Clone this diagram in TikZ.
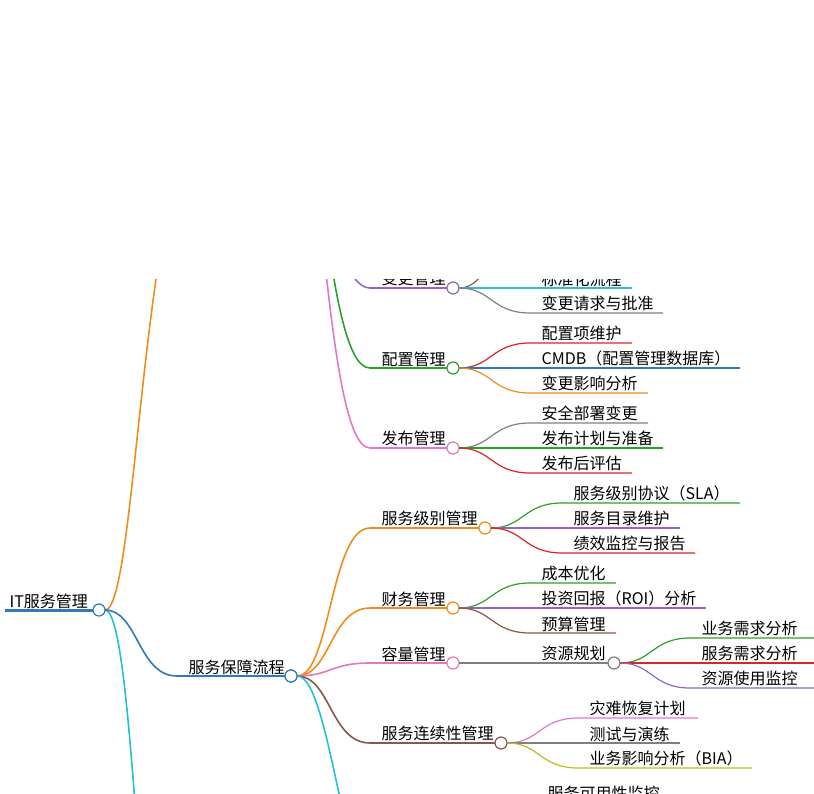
\documentclass[tikz,border=0pt]{standalone}
\usepackage{fontspec}
\setmainfont{Noto Sans CJK SC}
\definecolor{mmblue}{HTML}{2F7AB8}
\definecolor{mmorange}{HTML}{F08C1E}
\definecolor{mmcyan}{HTML}{26C0D0}
\definecolor{mmgreen}{HTML}{2CA02C}
\definecolor{mmpink}{HTML}{E377C2}
\definecolor{mmbrown}{HTML}{8C564B}
\definecolor{mmpurple}{HTML}{9467BD}
\definecolor{mmred}{HTML}{D62728}
\definecolor{mmgray}{HTML}{7F7F7F}
\definecolor{mmolive}{HTML}{BCBD22}
% px py ly xs xe colour text
\newcommand\leaf[7]{%
  \draw[edge,#6] (#1+6,#2) .. controls ({(#1+#4)/2},#2) and ({(#1+#4)/2},#3) .. (#4,#3) -- (#5,#3);
  \node[lbl] at (#4+10,#3) {#7};}
% px py ly xs xknot colour text name
\newcommand\topic[8]{%
  \draw[stem,#6] (#1+6,#2) .. controls ({(#1+#4)/2},#2) and ({(#1+#4)/2},#3) .. (#4,#3) -- (#5-6,#3);
  \node[lbl] (#8-t) at (#4+10,#3) {#7};
  \node[knot,draw=#6] (#8) at (#5,#3) {};}
\begin{document}
\begin{tikzpicture}[x=1pt,y=-1pt,
  knot/.style={circle,draw,fill=white,inner sep=0pt,minimum size=12pt,line width=1.2pt},
  lbl/.style={anchor=south west,inner sep=1.5pt,font=\fontsize{16}{16}\selectfont},
  edge/.style={line width=1.2pt},
  stem/.style={line width=1.6pt}]
\useasboundingbox (0,0) rectangle (814,794);
\clip (0,280) rectangle (814,794);

% root
\draw[line width=3pt,mmblue] (5,610) -- (93,610);
\node[lbl] (root-t) at (8,610) {IT服务管理};
\draw[stem,mmorange] (105,610) .. controls (140,610) and (140,100) .. (230,60);
\draw[stem,mmcyan] (105,610) .. controls (137,610) and (140,1100) .. (175,1100);
\topic{99}{610}{676}{177}{291}{mmblue}{服务保障流程}{bzlc}
\node[knot,draw=mmblue] (root) at (99,610) {};

% upper group (parent above the page)
\topic{274}{40}{288}{370}{453}{mmpurple}{变更管理}{bggl}
\topic{274}{40}{368}{370}{453}{mmgreen}{配置管理}{pzgl}
\topic{274}{40}{448}{370}{453}{mmpink}{发布管理}{fbgl}

\leaf{453}{288}{230}{530}{600}{mmbrown}{}
\leaf{453}{288}{288}{530}{632}{mmcyan}{标准化流程}
\leaf{453}{288}{313}{530}{663}{mmgray}{变更请求与批准}
\leaf{453}{368}{343}{530}{632}{mmred}{配置项维护}
\leaf{453}{368}{368}{530}{740}{mmblue}{CMDB（配置管理数据库）}
\leaf{453}{368}{393}{530}{648}{mmorange}{变更影响分析}
\leaf{453}{448}{423}{530}{648}{mmgray}{安全部署变更}
\leaf{453}{448}{448}{530}{663}{mmgreen}{发布计划与准备}
\leaf{453}{448}{473}{530}{632}{mmred}{发布后评估}

% service assurance
\topic{291}{676}{528}{370}{485}{mmorange}{服务级别管理}{fwjb}
\topic{291}{676}{608}{370}{453}{mmorange}{财务管理}{cwgl}
\topic{291}{676}{663}{370}{453}{mmpink}{容量管理}{rlgl}
\topic{291}{676}{743}{370}{501}{mmbrown}{服务连续性管理}{lxgl}
\draw[stem,mmcyan] (297,676) .. controls (335,676) and (345,950) .. (420,1000);
\node[knot,draw=mmblue] at (291,676) {};

\leaf{485}{528}{503}{562}{740}{mmgreen}{服务级别协议（SLA）}
\leaf{485}{528}{528}{562}{680}{mmpurple}{服务目录维护}
\leaf{485}{528}{553}{562}{695}{mmred}{绩效监控与报告}
\leaf{453}{608}{583}{530}{616}{mmgreen}{成本优化}
\leaf{453}{608}{608}{530}{706}{mmpurple}{投资回报（ROI）分析}
\leaf{453}{608}{633}{530}{616}{mmbrown}{预算管理}
\topic{453}{663}{663}{530}{614}{mmgray}{资源规划}{zygh}
\leaf{614}{663}{638}{690}{814}{mmgreen}{业务需求分析}
\leaf{614}{663}{663}{690}{814}{mmred}{服务需求分析}
\leaf{614}{663}{688}{690}{814}{mmpurple}{资源使用监控}
\leaf{501}{743}{718}{578}{698}{mmpink}{灾难恢复计划}
\leaf{501}{743}{743}{578}{680}{mmgray}{测试与演练}
\leaf{501}{743}{768}{578}{752}{mmolive}{业务影响分析（BIA）}
\node[lbl] (kyx) at (546,803) {服务可用性监控};
\end{tikzpicture}
\end{document}
